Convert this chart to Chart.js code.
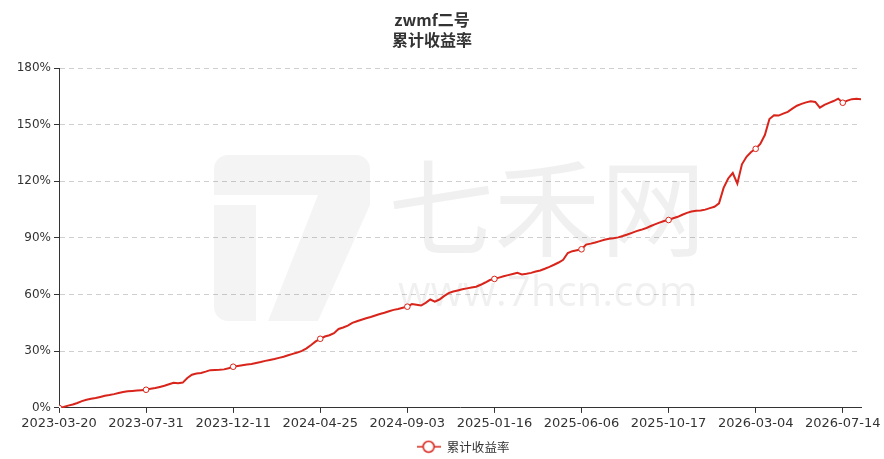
<!DOCTYPE html>
<html>
<head>
<meta charset="utf-8">
<script src="https://cdn.jsdelivr.net/npm/chart.js@4.4.1/dist/chart.umd.min.js"></script>
<style>
  html, body { margin: 0; padding: 0; background: #fff; }
  canvas { display: block; }
</style>
</head>
<body>
<canvas id="chart" width="884" height="459"></canvas>
<script>
// ===== DATA =====
const titleLines = ['zwmf二号', '累计收益率'];
const seriesName = '累计收益率';
const tickStep = 19; // one axis label every 19 points
const tickLabels = [
    '2023-03-20', '2023-07-31', '2023-12-11', '2024-04-25', '2024-09-03',
    '2025-01-16', '2025-06-06', '2025-10-17', '2026-03-04', '2026-07-14'
];
const yTicks = [0, 30, 60, 90, 120, 150, 180];

// cumulative return, %
const returns = [
    0.0, 0.5, 1.2, 1.8, 2.6, 3.6, 4.3, 4.8, 5.2, 5.8,
    6.4, 6.8, 7.3, 7.9, 8.4, 8.8, 9.0, 9.2, 9.4, 9.6,
    10.1, 10.5, 11.1, 11.7, 12.5, 13.3, 13.0, 13.4, 15.8, 17.6,
    18.2, 18.5, 19.2, 20.0, 20.1, 20.2, 20.4, 21.0, 21.8, 22.2,
    22.6, 23.0, 23.3, 23.8, 24.3, 24.9, 25.4, 25.9, 26.5, 27.1,
    27.9, 28.6, 29.3, 30.2, 31.5, 33.3, 35.2, 36.6, 37.8, 38.5,
    39.6, 41.8, 42.6, 43.6, 45.0, 45.9, 46.7, 47.5, 48.1, 48.9,
    49.7, 50.4, 51.2, 51.9, 52.4, 53.0, 53.6, 55.0, 54.6, 54.2,
    55.6, 57.4, 56.3, 57.4, 59.2, 60.8, 61.6, 62.2, 62.8, 63.3,
    63.8, 64.2, 65.2, 66.4, 67.7, 68.3, 69.0, 69.7, 70.3, 70.9,
    71.5, 70.7, 71.0, 71.5, 72.2, 72.8, 73.7, 74.7, 75.8, 77.0,
    78.4, 82.0, 83.0, 83.5, 84.0, 86.5, 87.0, 87.6, 88.3, 89.0,
    89.6, 89.8, 90.3, 91.0, 91.8, 92.7, 93.6, 94.3, 95.1, 96.2,
    97.2, 98.1, 99.0, 99.5, 100.4, 101.2, 102.3, 103.3, 104.0, 104.4,
    104.5, 105.0, 105.8, 106.5, 108.3, 116.5, 121.5, 124.4, 118.8, 129.0,
    133.0, 135.5, 137.2, 139.8, 144.5, 153.0, 155.0, 154.8, 155.8, 156.8,
    158.5, 160.0, 161.0, 161.8, 162.4, 162.0, 159.0, 160.5, 161.5, 162.5,
    163.8, 161.6, 162.7, 163.5, 163.7, 163.4
];

const lineColor = '#d8241a';

// ===== LEGEND ICON (line with hollow circle) =====
const legendIcon = document.createElement('canvas');
legendIcon.width = 24;
legendIcon.height = 14;
const ic = legendIcon.getContext('2d');
ic.strokeStyle = lineColor;
ic.lineWidth = 1.5;
ic.beginPath(); ic.moveTo(0, 7); ic.lineTo(24, 7); ic.stroke();
ic.beginPath(); ic.arc(12, 7, 5.5, 0, Math.PI * 2);
ic.fillStyle = '#fff'; ic.fill();
ic.stroke();

// ===== WATERMARK =====
const watermark = {
    id: 'watermark',
    afterLayout(chart) {
        // the legend sits a bit right of centre in the original
        chart.legend.left += 31;
        chart.legend.right += 31;
    },
    beforeDatasetsDraw(chart) {
        const ctx = chart.ctx;
        ctx.save();
        ctx.fillStyle = 'rgba(0,0,0,0.045)';
        // "7" logo
        ctx.beginPath();
        ctx.roundRect(214, 155, 156, 40, [14, 14, 0, 0]);
        ctx.fill();
        ctx.beginPath();
        ctx.moveTo(318, 195); ctx.lineTo(370, 195); ctx.lineTo(370, 205);
        ctx.lineTo(318, 321); ctx.lineTo(268, 321);
        ctx.closePath();
        ctx.fill();
        ctx.beginPath();
        ctx.roundRect(214, 205, 42, 116, [0, 0, 0, 14]);
        ctx.fill();
        // text
        ctx.fillStyle = 'rgba(0,0,0,0.06)';
        ctx.textAlign = 'left';
        ctx.textBaseline = 'middle';
        ctx.font = '106px "Noto Sans CJK SC"';
        ctx.fillText('七禾网', 388, 208);
        ctx.font = '42px "Open Sans"';
        ctx.fillText('www.7hcn.com', 398, 294);
        ctx.restore();
    }
};

// ===== CHART =====
new Chart(document.getElementById('chart'), {
    type: 'line',
    data: {
        labels: returns.map((_, i) => i),
        datasets: [{
            label: seriesName,
            data: returns,
            borderColor: lineColor,
            backgroundColor: '#fff',
            borderWidth: 2,
            tension: 0,
            fill: false,
            pointRadius: ctx => (ctx.dataIndex % tickStep === 0 ? 2.8 : 0),
            pointBorderWidth: 1,
            pointBackgroundColor: '#fff',
            pointBorderColor: lineColor,
            pointHoverRadius: 0,
        }]
    },
    options: {
        responsive: false,
        animation: false,
        layout: { padding: { right: 20, bottom: -4 } },
        plugins: {
            title: {
                display: true,
                text: titleLines,
                color: '#333',
                font: { family: '"Noto Sans CJK SC", sans-serif', size: 16, weight: 'bold', lineHeight: 1.25 },
                padding: { top: 10, bottom: 18 }
            },
            legend: {
                position: 'bottom',
                labels: {
                    usePointStyle: true,
                    pointStyle: legendIcon,
                    pointStyleWidth: 24,
                    color: '#333',
                    font: { family: '"Noto Sans CJK SC", sans-serif', size: 12.5 },
                    padding: 2
                }
            },
            tooltip: { enabled: false }
        },
        scales: {
            x: {
                type: 'linear',
                min: 0,
                max: returns.length - 1,
                offset: false,
                afterFit: s => { s.height += 4; },
                grid: { drawOnChartArea: false, drawTicks: true, tickLength: 5, tickColor: '#333' },
                border: { color: '#333', width: 1 },
                ticks: {
                    stepSize: tickStep,
                    autoSkip: false,
                    includeBounds: false,
                    maxRotation: 0,
                    padding: 3,
                    color: '#333',
                    font: { family: '"DejaVu Sans", sans-serif', size: 13 },
                    callback: v => tickLabels[v / tickStep] ?? ''
                }
            },
            y: {
                min: yTicks[0],
                max: yTicks[yTicks.length - 1],
                afterFit: s => { s.width = 59; },
                grid: {
                    color: c => (c.tick && c.tick.value === 0 ? 'rgba(0,0,0,0)' : '#cfcfcf'),
                    tickColor: '#333',
                    tickLength: 5,
                    drawTicks: true
                },
                border: { color: '#333', width: 1, dash: [5, 4] },
                ticks: {
                    stepSize: 30,
                    padding: 3,
                    color: '#333',
                    font: { family: '"DejaVu Sans", sans-serif', size: 12 },
                    callback: v => v + '%'
                }
            }
        }
    },
    plugins: [watermark]
});
</script>
</body>
</html>
